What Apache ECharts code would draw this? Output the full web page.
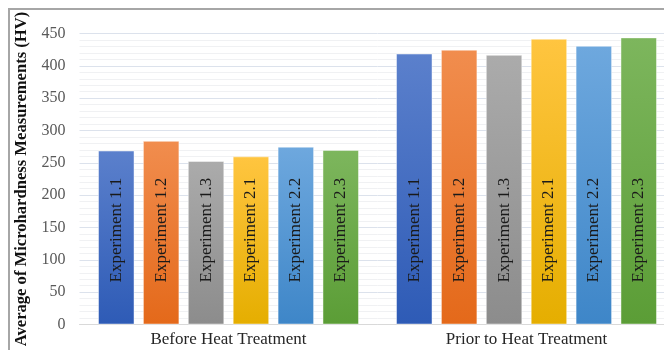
<!DOCTYPE html>
<html>
<head>
<meta charset="utf-8">
<script src="https://cdn.jsdelivr.net/npm/echarts@6/dist/echarts.min.js"></script>
<style>
  html, body { margin: 0; padding: 0; background: #fff; overflow: hidden; width: 664px; height: 350px; }
  /* plot area runs a little past the right edge of the page */
  #chart { width: 676px; height: 350px; }
</style>
</head>
<body>
<div id="chart"></div>
<script>
// Microhardness (HV) per experiment, grouped by treatment stage
const categories = ['Before Heat Treatment', 'Prior to Heat Treatment'];
const experiments = ['Experiment 1.1', 'Experiment 1.2', 'Experiment 1.3', 'Experiment 2.1', 'Experiment 2.2', 'Experiment 2.3'];
const exp11 = [269, 419];
const exp12 = [284, 425];
const exp13 = [253, 417];
const exp21 = [260, 442];
const exp22 = [275, 431];
const exp23 = [270, 444];
const yTicks = [0, 50, 100, 150, 200, 250, 300, 350, 400, 450];

const seriesValues = [exp11, exp12, exp13, exp21, exp22, exp23];
// top / bottom gradient stops for each experiment's bars
const barColors = [
  ['#5B80CC', '#2E5BB6'],
  ['#F18D4E', '#E4691A'],
  ['#ABABAB', '#8C8C8C'],
  ['#FFC540', '#E5AE00'],
  ['#6EA8DE', '#3E86C8'],
  ['#7DB65D', '#5B9D36']
];

const serif = '"Liberation Serif", "Times New Roman", serif';

const series = experiments.map((name, i) => ({
  name: name,
  type: 'bar',
  data: seriesValues[i],
  barWidth: 36.5,
  barGap: '23%',
  itemStyle: {
    color: new echarts.graphic.LinearGradient(0, 0, 0, 1, [
      { offset: 0, color: barColors[i][0] },
      { offset: 1, color: barColors[i][1] }
    ]),
    borderColor: 'rgba(255,255,255,0.45)',
    borderWidth: 1
  },
  label: {
    show: true,
    formatter: name,
    position: 'insideBottom',
    distance: 42,
    rotate: 90,
    align: 'left',
    verticalAlign: 'middle',
    fontFamily: serif,
    fontSize: 17,
    color: '#1a1a1a'
  },
  emphasis: { disabled: true }
}));

const chart = echarts.init(document.getElementById('chart'), null, { renderer: 'canvas' });
chart.setOption({
  animation: false,
  backgroundColor: '#ffffff',
  grid: { left: 79.5, width: 596, top: 33.5, height: 291, containLabel: false },
  xAxis: {
    type: 'category',
    data: categories,
    axisLine: { show: true, lineStyle: { color: '#D9D9D9', width: 1 } },
    axisTick: { show: false },
    axisLabel: {
      fontFamily: serif,
      fontSize: 17,
      color: '#262626',
      margin: 7
    }
  },
  yAxis: {
    type: 'value',
    min: yTicks[0],
    max: yTicks[yTicks.length - 1],
    interval: 50,
    name: 'Average of Microhardness Measurements (HV)',
    nameLocation: 'middle',
    nameGap: 42,
    nameTextStyle: {
      fontFamily: serif,
      fontSize: 16.6,
      fontWeight: 'bold',
      color: '#111'
    },
    axisLine: { show: false },
    axisTick: { show: false },
    axisLabel: {
      fontFamily: serif,
      fontSize: 16,
      color: '#595959',
      margin: 14
    },
    splitLine: { show: true, lineStyle: { color: '#DCE2EC', width: 1 } },
    minorTick: { show: false, splitNumber: 5 },
    minorSplitLine: { show: true, lineStyle: { color: '#F0F1F3', width: 1 } }
  },
  graphic: [
    { type: 'line', silent: true, shape: { x1: 8, y1: 9, x2: 676, y2: 9 }, style: { stroke: '#A6A6A6', lineWidth: 2 } },
    { type: 'line', silent: true, shape: { x1: 9, y1: 8, x2: 9, y2: 350 }, style: { stroke: '#A6A6A6', lineWidth: 2 } }
  ],
  series: series
});
</script>
</body>
</html>
